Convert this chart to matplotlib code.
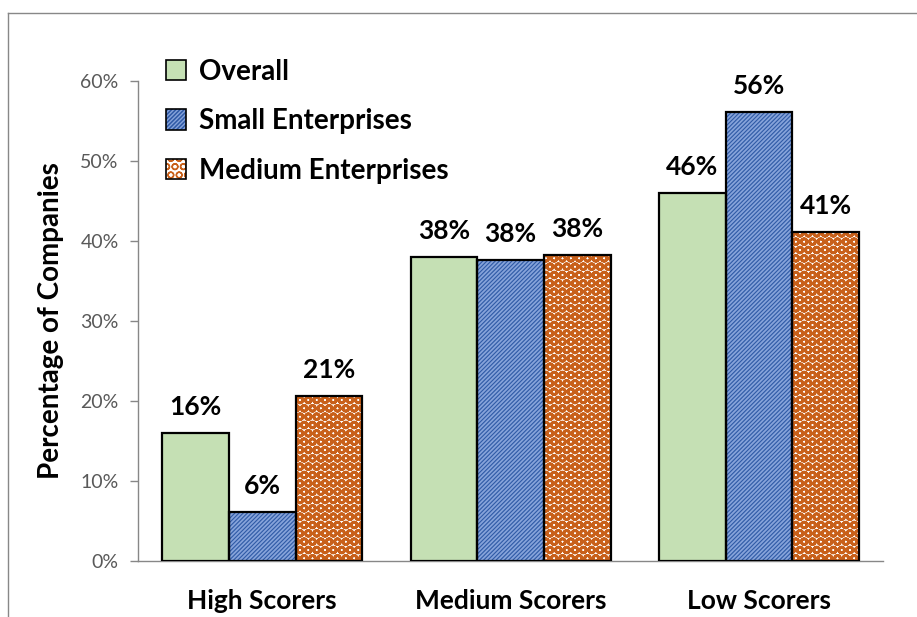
import matplotlib
matplotlib.use("Agg")
import matplotlib.pyplot as plt
from matplotlib.lines import Line2D
from matplotlib.patches import Patch
from matplotlib.legend_handler import HandlerTuple
import numpy as np

categories = ["High Scorers", "Medium Scorers", "Low Scorers"]
series_names = ["Overall", "Small Enterprises", "Medium Enterprises"]
overall = [16.0, 38.0, 46.0]
small = [6.1, 37.6, 56.1]
medium = [20.6, 38.2, 41.1]
y_ticks = [0, 10, 20, 30, 40, 50, 60]

plt.rcParams["font.family"] = ["Lato", "DejaVu Sans"]

fig = plt.figure(figsize=(9.17, 6.17), dpi=100)
ax = fig.add_axes([0.1505, 0.0908, 0.8125, 0.7779])

x = np.arange(len(categories))
w = 0.2685

styles = [
    dict(face="#C5E0B4", hatch=None, hcolor=None, hlw=1.0),
    dict(face="#2F5AA6", hatch="////////", hcolor="#86A3DA", hlw=1.3),
    dict(face="white", hatch="OO", hcolor="#C8601A", hlw=2.0),
]
all_vals = [overall, small, medium]


def fill_patch(st, **kw):
    """Fill (and hatch, if any) without an outline."""
    with plt.rc_context({"hatch.linewidth": st["hlw"]}):
        if st["hatch"]:
            p = Patch(facecolor=st["face"], edgecolor=st["hcolor"], hatch=st["hatch"],
                      linewidth=0, **kw)
        else:
            p = Patch(facecolor=st["face"], linewidth=0, **kw)
    if st["hatch"] and hasattr(p, "set_hatch_linewidth"):
        p.set_hatch_linewidth(st["hlw"])
    return p


for i, (vals, st) in enumerate(zip(all_vals, styles)):
    pos = x + (i - 1) * w
    with plt.rc_context({"hatch.linewidth": st["hlw"]}):
        if st["hatch"]:
            bars = ax.bar(pos, vals, w, color=st["face"], edgecolor=st["hcolor"],
                          hatch=st["hatch"], linewidth=0, zorder=2)
            for b in bars:
                if hasattr(b, "set_hatch_linewidth"):
                    b.set_hatch_linewidth(st["hlw"])
        else:
            ax.bar(pos, vals, w, color=st["face"], linewidth=0, zorder=2)
    ax.bar(pos, vals, w, fill=False, edgecolor="black", linewidth=1.6, zorder=3)
    for px, v in zip(pos, vals):
        ax.annotate(f"{v:.0f}%", (px, v), xytext=(0, 19), textcoords="offset points",
                    ha="center", va="center", fontsize=19, fontweight="bold",
                    color="black")

ax.set_xlim(-0.5, 2.5)
ax.set_ylim(0, 60)
ax.set_yticks(y_ticks)
ax.set_yticklabels([f"{t}%" for t in y_ticks], fontsize=14, color="#595959")
ax.set_xticks(x)
ax.set_xticklabels(categories, fontsize=19, fontweight="bold")
ax.tick_params(axis="x", length=0, pad=20)
ax.tick_params(axis="y", length=6, width=1, color="#878787", pad=8)
for s in ["top", "right"]:
    ax.spines[s].set_visible(False)
for s in ["left", "bottom"]:
    ax.spines[s].set_color("#878787")
    ax.spines[s].set_linewidth(1)
ax.set_ylabel("Percentage of Companies", fontsize=20, fontweight="bold", labelpad=12)

handles = []
for st in styles:
    outline = Patch(fill=False, edgecolor="black", linewidth=1.2)
    handles.append((fill_patch(st), outline))
leg = ax.legend(handles=handles, labels=series_names, loc="upper left",
                bbox_to_anchor=(0.022, 1.07),
                handler_map={tuple: HandlerTuple(ndivide=1, pad=0)},
                frameon=False, prop=dict(size=20, weight="bold"),
                handlelength=0.75, handleheight=0.75, handletextpad=0.45,
                labelspacing=0.85, borderaxespad=0)

# thin frame around the chart area
fig.add_artist(Line2D([8 / 917, 8 / 917], [0, 1 - 13 / 617], transform=fig.transFigure,
                      color="#888888", linewidth=1))
fig.add_artist(Line2D([8 / 917, 1], [1 - 13 / 617, 1 - 13 / 617], transform=fig.transFigure,
                      color="#888888", linewidth=1))

fig.savefig("out.png", dpi=100)
